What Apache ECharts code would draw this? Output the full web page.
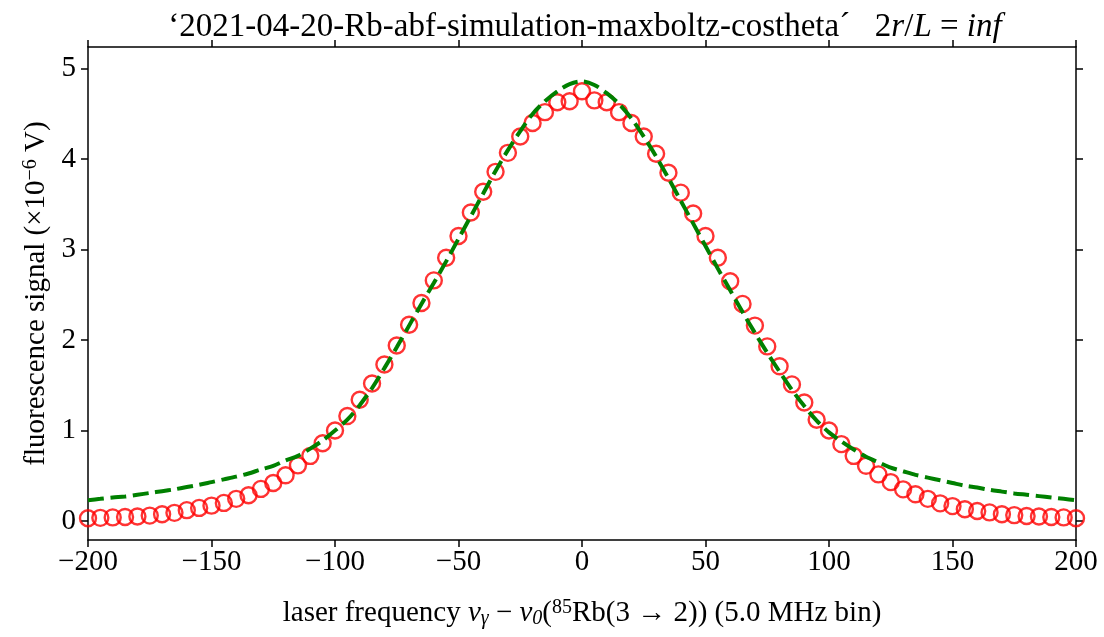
<!DOCTYPE html>
<html>
<head>
<meta charset="utf-8">
<script src="https://cdn.jsdelivr.net/npm/echarts@6/dist/echarts.min.js"></script>
<style>
  html, body { margin: 0; padding: 0; background: #ffffff; }
  #chart { width: 1104px; height: 637px; }
</style>
</head>
<body>
<div id="chart"></div>
<script>
// Laser detuning of each 5 MHz bin (MHz)
const detuning = [
  -200, -195, -190, -185, -180, -175, -170, -165, -160, -155,
  -150, -145, -140, -135, -130, -125, -120, -115, -110, -105,
  -100, -95, -90, -85, -80, -75, -70, -65, -60, -55,
  -50, -45, -40, -35, -30, -25, -20, -15, -10, -5,
  0, 5, 10, 15, 20, 25, 30, 35, 40, 45,
  50, 55, 60, 65, 70, 75, 80, 85, 90, 95,
  100, 105, 110, 115, 120, 125, 130, 135, 140, 145,
  150, 155, 160, 165, 170, 175, 180, 185, 190, 195, 200
];

// Simulated fluorescence signal per bin (x1e-6 V)
const simulated = [
  0.03, 0.035, 0.04, 0.045, 0.05, 0.06, 0.075, 0.09, 0.12, 0.145,
  0.17, 0.20, 0.245, 0.285, 0.355, 0.42, 0.505, 0.615, 0.72, 0.86,
  1.00, 1.16, 1.34, 1.52, 1.73, 1.94, 2.17, 2.41, 2.66, 2.91,
  3.15, 3.41, 3.64, 3.86, 4.07, 4.25, 4.40, 4.52, 4.63, 4.64,
  4.75, 4.65, 4.63, 4.52, 4.40, 4.25, 4.06, 3.85, 3.63, 3.40,
  3.15, 2.91, 2.65, 2.40, 2.16, 1.93, 1.71, 1.51, 1.31, 1.12,
  1.00, 0.85, 0.72, 0.61, 0.515, 0.43, 0.35, 0.295, 0.245, 0.195,
  0.165, 0.13, 0.11, 0.095, 0.075, 0.065, 0.055, 0.05, 0.045, 0.04, 0.03
];

// Fitted line profile at the same detunings (x1e-6 V)
const fitted = [
  0.23, 0.245, 0.26, 0.27, 0.29, 0.31, 0.33, 0.35, 0.375, 0.40,
  0.43, 0.46, 0.49, 0.525, 0.57, 0.61, 0.67, 0.72, 0.80, 0.89,
  1.00, 1.12, 1.28, 1.47, 1.69, 1.92, 2.16, 2.40, 2.63, 2.87,
  3.12, 3.37, 3.62, 3.87, 4.10, 4.31, 4.50, 4.64, 4.75, 4.83,
  4.86, 4.82, 4.73, 4.61, 4.45, 4.25, 4.03, 3.79, 3.54, 3.29,
  3.04, 2.79, 2.55, 2.31, 2.08, 1.86, 1.65, 1.45, 1.27, 1.11,
  0.98, 0.88, 0.79, 0.71, 0.65, 0.59, 0.55, 0.51, 0.48, 0.45,
  0.42, 0.39, 0.37, 0.345, 0.325, 0.305, 0.29, 0.275, 0.26, 0.245, 0.23
];

// Axis tick positions
const xTicks = [-200, -150, -100, -50, 0, 50, 100, 150, 200];
const yTicks = [0, 1, 2, 3, 4, 5];

const FONT = 'Liberation Serif';
const X_MIN = -200, X_MAX = 200, Y_MIN = -0.21, Y_MAX = 5.24;

const simPairs = detuning.map((x, i) => [x, simulated[i]]);
const fitPairs = detuning.map((x, i) => [x, fitted[i]]);

const tickStyle = { show: true, length: 7, inside: false, lineStyle: { color: '#000', width: 1.5 } };
const lineStyle = { show: true, onZero: false, lineStyle: { color: '#000', width: 1.5 } };

const chart = echarts.init(document.getElementById('chart'), null, { renderer: 'canvas' });

chart.setOption({
  backgroundColor: '#ffffff',
  animation: false,
  title: {
    text: '{n|‘2021-04-20-Rb-abf-simulation-maxboltz-costheta´}{n|   2}{i|r}{n|/}{i|L}{n| = }{i|inf}',
    left: 580,
    top: 6,
    textAlign: 'center',
    textStyle: {
      rich: {
        n: { fontFamily: FONT, fontSize: 33, fontWeight: 'normal', color: '#000' },
        i: { fontFamily: FONT, fontSize: 33, fontWeight: 'normal', fontStyle: 'italic', color: '#000' }
      }
    }
  },
  grid: { left: 88, right: 28, top: 47, bottom: 97, containLabel: false, outerBoundsMode: 'none' },
  xAxis: [
    {
      type: 'value', position: 'bottom', min: X_MIN, max: X_MAX, interval: 50,
      axisLine: lineStyle, axisTick: tickStyle, splitLine: { show: false },
      axisLabel: {
        fontFamily: FONT, fontSize: 29, color: '#000', margin: 8,
        formatter: v => (v < 0 ? '\u2212' + Math.abs(v) : String(v))
      },
      name: '{n|laser frequency }{i|ν}{sb|γ}{n| − }{i|ν}{sb|0}{n|(}{sp|85}{n|Rb(3 → 2)) (5.0 MHz bin)}',
      nameLocation: 'middle',
      nameGap: 58,
      nameTextStyle: {
        rich: {
          n: { fontFamily: FONT, fontSize: 29, color: '#000' },
          i: { fontFamily: FONT, fontSize: 29, fontStyle: 'italic', color: '#000' },
          sb: { fontFamily: FONT, fontSize: 20, fontStyle: 'italic', color: '#000', padding: [11, 0, 0, 0] },
          sp: { fontFamily: FONT, fontSize: 20, color: '#000', padding: [0, 0, 11, 0] }
        }
      }
    },
    {
      type: 'value', position: 'top', min: X_MIN, max: X_MAX, interval: 50,
      axisLine: lineStyle, axisTick: tickStyle, axisLabel: { show: false }, splitLine: { show: false }
    }
  ],
  yAxis: [
    {
      type: 'value', position: 'left', min: Y_MIN, max: Y_MAX,
      axisLine: lineStyle,
      axisTick: Object.assign({}, tickStyle, { customValues: yTicks }),
      splitLine: { show: false },
      axisLabel: { fontFamily: FONT, fontSize: 29, color: '#000', margin: 12, customValues: yTicks },
      name: 'fluorescence signal (×10{sp|−6} V)',
      nameLocation: 'middle',
      nameGap: 32,
      nameRotate: 90,
      nameTextStyle: {
        fontFamily: FONT, fontSize: 29, color: '#000',
        rich: {
          sp: { fontFamily: FONT, fontSize: 20, color: '#000', padding: [0, 0, 11, 0] }
        }
      }
    },
    {
      type: 'value', position: 'right', min: Y_MIN, max: Y_MAX,
      axisLine: lineStyle,
      axisTick: Object.assign({}, tickStyle, { customValues: yTicks }),
      axisLabel: { show: false }, splitLine: { show: false }
    }
  ],
  series: [
    {
      name: 'simulation',
      type: 'scatter',
      data: simPairs,
      symbol: 'circle',
      symbolSize: 16,
      itemStyle: { color: 'rgba(0,0,0,0)', borderColor: '#ff0000', borderWidth: 2.4 },
      z: 2
    },
    {
      name: 'fit',
      type: 'line',
      data: fitPairs,
      showSymbol: false,
      smooth: 0.3,
      lineStyle: { color: '#008000', width: 4, type: [16, 6.5] },
      z: 3
    }
  ]
});
</script>
</body>
</html>
